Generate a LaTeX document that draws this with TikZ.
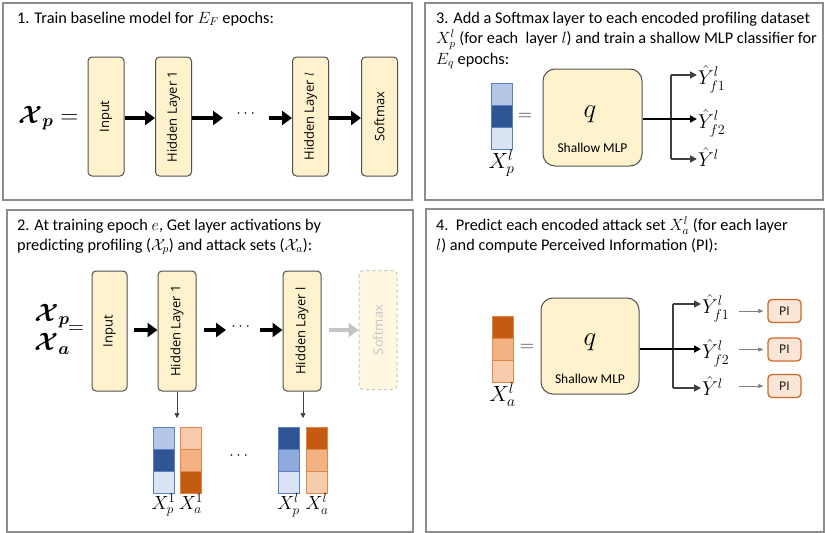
\RequirePackage{fix-cm}
\documentclass[tikz,border=0pt]{standalone}
\usepackage{amsmath}
\usepackage{bm}
\usepackage{fontspec}
\setmainfont{Carlito}
\newfontfamily\boxfont{Open Sans}
\usetikzlibrary{arrows.meta}
\definecolor{panelc}{HTML}{8C8C8C}
\definecolor{boxfill}{HTML}{FFF2CC}
\definecolor{boxline}{HTML}{505050}
\definecolor{bA}{HTML}{B4C7E7}
\definecolor{bB}{HTML}{2F5597}
\definecolor{bC}{HTML}{DAE3F3}
\definecolor{bD}{HTML}{8FAADC}
\definecolor{bE}{HTML}{5B7FC4}
\definecolor{oA}{HTML}{F8CBAD}
\definecolor{oB}{HTML}{F4B183}
\definecolor{oC}{HTML}{C55A11}
\definecolor{oE}{HTML}{E2864A}
\definecolor{pifill}{HTML}{FBE5D6}
\definecolor{piline}{HTML}{D0692A}
\definecolor{ghost}{HTML}{C4C4C4}
\definecolor{ghostfill}{HTML}{FFF7E0}
\definecolor{arrg}{HTML}{404040}
\newcommand\vstack[7]{%
  \node[cell, draw=#4, fill=#5, anchor=north] (#1-1) at (#2,#3) {};
  \node[cell, draw=#4, fill=#6, anchor=north] (#1-2) at (#1-1.south) {};
  \node[cell, draw=#4, fill=#7, anchor=north] (#1-3) at (#1-2.south) {};
}
\begin{document}
\begin{tikzpicture}[x=1pt,y=-1pt,
  panel/.style={draw=panelc, line width=1.5pt},
  title/.style={anchor=base west, inner sep=0, font=\fontsize{16.3}{20}\selectfont},
  layer/.style={draw=boxline, fill=boxfill, rounded corners=4pt, line width=1pt,
    minimum width=119, minimum height=36, rotate=90, inner sep=0,
    font=\boxfont\fontsize{13}{13}\selectfont},
  ghostlayer/.style={layer, draw=ghost, dashed, fill=ghostfill, text=ghost},
  bigarrow/.style={line width=3.5pt, -{Triangle[length=10pt,width=14pt]}},
  ghostarrow/.style={bigarrow, draw=ghost},
  thin/.style={draw=arrg, line width=0.6pt, -{Triangle[length=5pt,width=5pt]}},
  brarrow/.style={draw=arrg, line width=1.5pt, -{Triangle[length=7pt,width=7pt]}},
  mainarrow/.style={draw=black, line width=1.8pt, -{Triangle[length=7pt,width=7pt]}},
  small/.style={draw=gray, line width=0.6pt, -{Triangle[length=5pt,width=4pt]}},
  cell/.style={minimum width=21, minimum height=22, inner sep=0, outer sep=0, line width=1pt},
  mlp/.style={draw=boxline, fill=boxfill, rounded corners=12pt, line width=1pt,
    minimum width=99, minimum height=97},
  mlplabel/.style={font=\fontsize{13.5}{14}\selectfont},
  qlabel/.style={font=\fontsize{27}{27}\selectfont},
  yl/.style={anchor=west, inner sep=1pt, font=\fontsize{20}{20}\selectfont},
  xl/.style={anchor=north, inner sep=0.5pt, font=\fontsize{22}{22}\selectfont},
  xls/.style={xl, font=\fontsize{19}{19}\selectfont},
  eqs/.style={font=\fontsize{20}{20}\selectfont, text=arrg},
  bigx/.style={font=\fontsize{25}{25}\selectfont},
  dots/.style={font=\fontsize{16}{16}\selectfont},
  pibox/.style={draw=piline, fill=pifill, rounded corners=4pt, line width=1.3pt,
    minimum width=33, minimum height=23, inner sep=0, font=\boxfont\fontsize{12}{12}\selectfont}
]
\useasboundingbox (0,0) rectangle (825,533);
% panels
\draw[panel] (3,3) rectangle (412,200);
\draw[panel] (425,3) rectangle (823,200);
\draw[panel] (7,210) rectangle (413,532);
\draw[panel] (426,209) rectangle (824,532);

% ---------- panel 1 ----------
\node[title] (t1) at (17,23) {1. Train baseline model for $E_F$ epochs:};
\node[bigx, anchor=west, inner sep=0] (xp1) at (18,118) {$\bm{\mathcal{X}}_{\bm{p}}=$};
\node[layer] (in1) at (106,116.5) {Input};
\node[layer] (h11) at (173.5,116.5) {Hidden Layer 1};
\node[layer] (hl1) at (310.5,116.5) {Hidden Layer $l$};
\node[layer] (sm1) at (379.5,116.5) {Softmax};
\node[dots] (d1) at (247,114) {$\cdots$};
\coordinate (d1a) at (223,118);
\coordinate (d1b) at (269,118);
\draw[bigarrow] (in1.south |- 0,118) -- (h11.north |- 0,118);
\draw[bigarrow] (h11.south |- 0,118) -- (d1a);
\draw[bigarrow] (d1b) -- (hl1.north |- 0,118);
\draw[bigarrow] (hl1.south |- 0,118) -- (sm1.north |- 0,118);

% ---------- panel 3 ----------
\node[title] (t3a) at (436,23) {3. Add a Softmax layer to each encoded profiling dataset};
\node[title] (t3b) at (436,43) {$X_p^l$ (for each \ layer $l$) and train a shallow MLP classifier for};
\node[title] (t3c) at (436,64) {$E_q$ epochs:};
\vstack{v3}{501.5}{83}{bE}{bA}{bB}{bC}
\node[xl] (lx3) at (v3-3.south) {$X_p^l$};
\node[eqs] (eq3) at (525,117) {$=$};
\node[mlp] (mlp3) at (592.5,117.5) {};
\node[qlabel] (q3) at (590,114) {$q$};
\node[mlplabel] (s3) at (592.5,148) {Shallow MLP};
\coordinate (br3t) at (671,75);
\coordinate (br3b) at (671,159);
\node[yl] (y31) at (697,79) {$\hat{Y}^{l}_{f1}$};
\node[yl] (y32) at (697,123) {$\hat{Y}^{l}_{f2}$};
\node[yl] (y33) at (697,157) {$\hat{Y}^{l}$};
\draw[draw=arrg, line width=1.5pt] (br3t) -- (br3b);
\draw[brarrow] (br3t) -- (br3t -| y31.west);
\draw[brarrow] (br3b) -- (br3b -| y33.west);
\draw[mainarrow] (mlp3.east |- 0,119) -- (y32.west |- 0,119);

% ---------- panel 2 ----------
\node[title] (t2a) at (17,230) {2. At training epoch $e$, Get layer activations by};
\node[title] (t2b) at (17,250) {predicting profiling ($\mathcal{X}_p$) and attack sets ($\mathcal{X}_a$):};
\node[bigx] (xp2) at (52,316) {$\bm{\mathcal{X}}_{\bm{p}}$};
\node[bigx] (xa2) at (52,344) {$\bm{\mathcal{X}}_{\bm{a}}$};
\node[eqs, text=black, font=\fontsize{22}{22}\selectfont] (eq2) at (76,330) {$=$};
\node[layer, minimum width=120, minimum height=35] (in2) at (109.5,331) {Input};
\node[layer, minimum width=120, minimum height=38] (h12) at (177,331) {Hidden Layer 1};
\node[layer, minimum width=120, minimum height=38] (hl2) at (302,331) {Hidden Layer l};
\node[ghostlayer, minimum width=119, minimum height=38] (sm2) at (378,330) {Softmax};
\node[dots] (d2) at (242,327) {$\cdots$};
\coordinate (d2a) at (226,330);
\coordinate (d2b) at (260,330);
\draw[bigarrow, shorten <=6pt] (in2.south |- 0,330) -- (h12.north |- 0,330);
\draw[bigarrow, shorten <=7pt] (h12.south |- 0,330) -- (d2a);
\draw[bigarrow] (d2b) -- (hl2.north |- 0,330);
\draw[ghostarrow, shorten <=7pt] (hl2.south |- 0,330) -- (sm2.north |- 0,330);
\vstack{vp1}{163.5}{427}{bE}{bA}{bB}{bC}
\vstack{va1}{191}{427}{oE}{oA}{oB}{oC}
\vstack{vpl}{288.5}{427}{bE}{bB}{bD}{bC}
\vstack{val}{317}{427}{oE}{oC}{oB}{oA}
\coordinate (a1) at (177,418);
\coordinate (a2) at (303,418);
\draw[thin] (h12.west) -- (a1);
\draw[thin] (hl2.west -| a2) -- (a2);
\node[dots] (d3) at (240,456) {$\cdots$};
\node[xls] (lp1) at (vp1-3.south) {$X_p^1$};
\node[xls] (la1) at (va1-3.south) {$X_a^1$};
\node[xls] (lpl) at (vpl-3.south) {$X_p^l$};
\node[xls] (lal) at (val-3.south) {$X_a^l$};

% ---------- panel 4 ----------
\node[title] (t4a) at (436,230) {4.\ \ Predict each encoded attack set $X_a^l$ (for each layer};
\node[title] (t4b) at (436,250) {$l$) and compute Perceived Information (PI):};
\vstack{v4}{502.5}{316}{oE}{oC}{oB}{oA}
\node[xl] (lx4) at (v4-3.south) {$X_a^l$};
\node[eqs] (eq4) at (527,348) {$=$};
\node[mlp, minimum width=98, minimum height=96] (mlp4) at (590,346) {};
\node[qlabel] (q4) at (590,342) {$q$};
\node[mlplabel] (s4) at (590,379) {Shallow MLP};
\coordinate (br4t) at (673,304);
\coordinate (br4b) at (673,388);
\node[yl] (y41) at (701,308) {$\hat{Y}^{l}_{f1}$};
\node[yl] (y42) at (701,353) {$\hat{Y}^{l}_{f2}$};
\node[yl] (y43) at (701,386) {$\hat{Y}^{l}$};
\draw[draw=arrg, line width=1.5pt] (br4t) -- (br4b);
\draw[brarrow] (br4t) -- (br4t -| y41.west);
\draw[brarrow] (br4b) -- (br4b -| y43.west);
\draw[mainarrow] (mlp4.east |- 0,349) -- (y42.west |- 0,349);
\node[pibox] (pi1) at (784.5,311) {PI};
\node[pibox] (pi2) at (784.5,349.5) {PI};
\node[pibox] (pi3) at (784.5,386) {PI};
\draw[small] ([xshift=-28pt]pi1.west) -- ([xshift=-4pt]pi1.west);
\draw[small] ([xshift=-28pt]pi2.west) -- ([xshift=-4pt]pi2.west);
\draw[small] ([xshift=-28pt]pi3.west) -- ([xshift=-4pt]pi3.west);
\end{tikzpicture}
\end{document}
